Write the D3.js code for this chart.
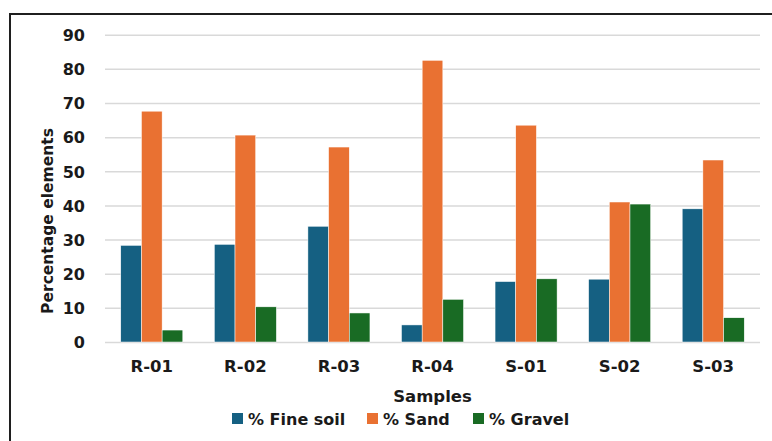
<!DOCTYPE html>
<html><head><meta charset="utf-8">
<script src="https://cdn.jsdelivr.net/npm/d3@7"></script>
<style>
html,body{margin:0;padding:0;background:#fff;}
svg text{font-family:"DejaVu Sans",sans-serif;font-weight:bold;fill:#1a1a1a;}
</style></head>
<body>
<svg id="c" width="772" height="441"></svg>
<script>
const categories = ["R-01","R-02","R-03","R-04","S-01","S-02","S-03"];
const seriesNames = ["% Fine soil","% Sand","% Gravel"];
const fineSoil = [28.3, 28.6, 33.9, 5.0, 17.7, 18.4, 39.0];
const sand     = [67.6, 60.6, 57.1, 82.5, 63.5, 41.0, 53.3];
const gravel   = [3.5, 10.3, 8.5, 12.5, 18.5, 40.4, 7.1];
const yTicks = [0,10,20,30,40,50,60,70,80,90];
const colors = ["#156082","#E97132","#196B24"];
const seriesValues = [fineSoil, sand, gravel];

const svg = d3.select("#c");
const L = 105, R = 760, T = 34.7, B = 342;

// frame
svg.append("line").attr("x1",10).attr("y1",14).attr("x2",10).attr("y2",441).attr("stroke","#1f1f1f").attr("stroke-width",2);
svg.append("line").attr("x1",9).attr("y1",14).attr("x2",772).attr("y2",14).attr("stroke","#1f1f1f").attr("stroke-width",2);

const x = d3.scaleBand().domain(categories).range([L,R]).paddingInner(0.337).paddingOuter(0.1685);
const xs = d3.scaleBand().domain(seriesNames).range([0,x.bandwidth()]);
const y = d3.scaleLinear().domain([0,90]).range([B,T]);

// gridlines
const yAxis = d3.axisLeft(y).tickValues(yTicks).tickSize(-(R-L)).tickPadding(20).tickFormat(d3.format("d"));
const gy = svg.append("g").attr("transform",`translate(${L},0)`).call(yAxis);
gy.select(".domain").remove();
gy.selectAll(".tick line").attr("stroke","#d9d9d9").attr("stroke-width",1.5);
gy.selectAll(".tick text").attr("font-size",16).attr("fill","#1a1a1a").attr("dy","0.36em");

// bars
const data = [];
categories.forEach((c,i)=>seriesNames.forEach((s,j)=>data.push({c,s,v:seriesValues[j][i],j})));
svg.append("g").selectAll("rect").data(data).enter().append("rect")
  .attr("x",d=>x(d.c)+xs(d.s))
  .attr("y",d=>y(d.v))
  .attr("width",xs.bandwidth())
  .attr("height",d=>y(0)-y(d.v))
  .attr("fill",d=>colors[d.j])
  .attr("stroke","#ffffff").attr("stroke-width",0.5);

// x axis labels
const xAxis = d3.axisBottom(x).tickSize(0).tickPadding(18);
const gx = svg.append("g").attr("transform",`translate(0,${B})`).call(xAxis);
gx.select(".domain").remove();
gx.selectAll(".tick text").attr("font-size",16.5).attr("fill","#1a1a1a");

// axis titles
svg.append("text").attr("x",(L+R)/2).attr("y",402).attr("text-anchor","middle").attr("font-size",16.5).text("Samples");
svg.append("text").attr("transform","translate(52.5,221) rotate(-90)").attr("text-anchor","middle").attr("font-size",15.5).text("Percentage elements");

// legend
const legX = [232, 367, 473];
const lg = svg.append("g");
seriesNames.forEach((s,j)=>{
  lg.append("rect").attr("x",legX[j]).attr("y",413).attr("width",11).attr("height",11).attr("fill",colors[j]);
  lg.append("text").attr("x",legX[j]+16).attr("y",424.5).attr("font-size",16).text(s);
});
</script>
</body></html>
